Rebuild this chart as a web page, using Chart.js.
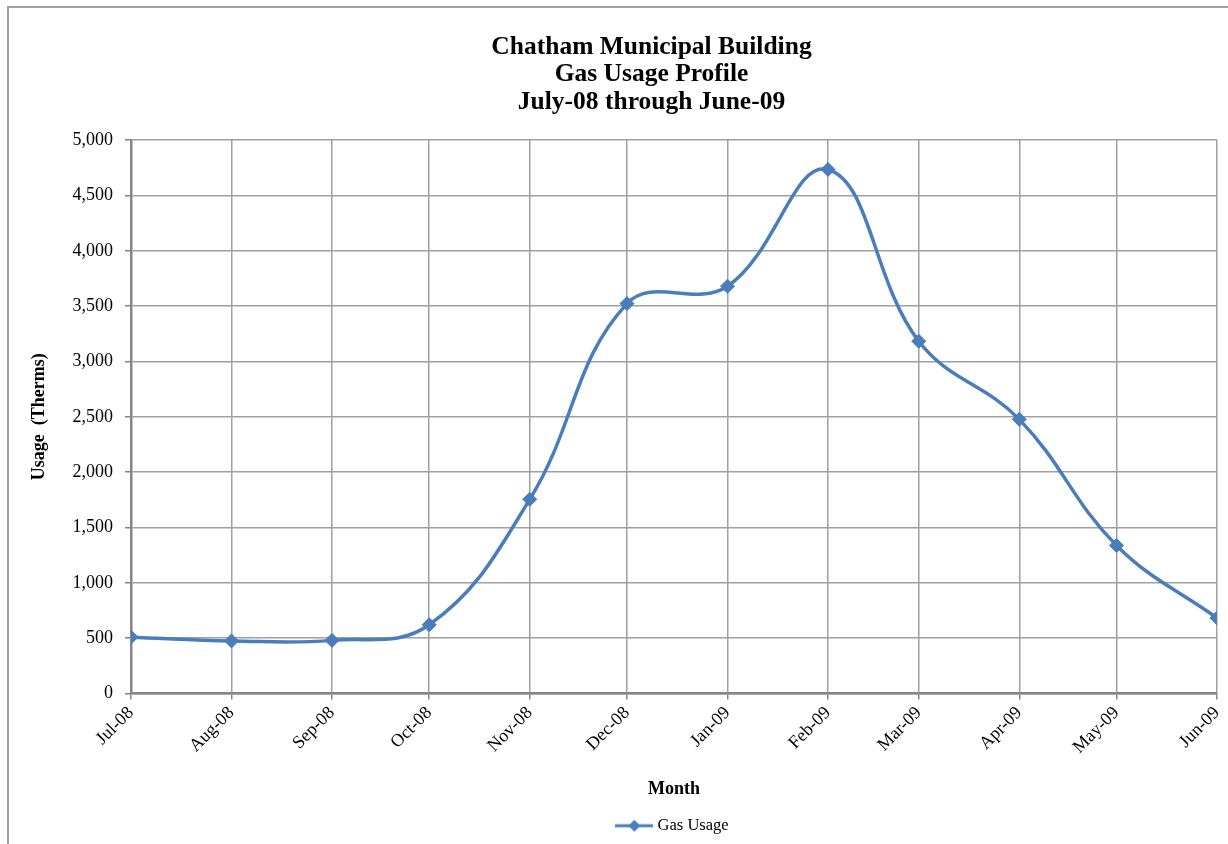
<!DOCTYPE html>
<html>
<head>
<meta charset="utf-8">
<script src="https://cdn.jsdelivr.net/npm/chart.js@4.4.0/dist/chart.umd.min.js"></script>
<style>
  html, body { margin: 0; padding: 0; background: #fff; }
  #wrap { position: relative; width: 1228px; height: 844px; }
</style>
</head>
<body>
<div id="wrap"><canvas id="c" width="1228" height="844"></canvas></div>
<script>
// ---- data ----
const monthDates = ['2008-07-01','2008-08-01','2008-09-01','2008-10-01','2008-11-01','2008-12-01',
                    '2009-01-01','2009-02-01','2009-03-01','2009-04-01','2009-05-01','2009-06-01'];
const monthLabels = ['Jul-08','Aug-08','Sep-08','Oct-08','Nov-08','Dec-08',
                     'Jan-09','Feb-09','Mar-09','Apr-09','May-09','Jun-09'];
const gasUsage = [509, 475, 480, 621, 1754, 3523, 3680, 4735, 3183, 2477, 1338, 682];
const yTicks = [0, 500, 1000, 1500, 2000, 2500, 3000, 3500, 4000, 4500, 5000];
const titleLines = ['Chatham Municipal Building', 'Gas Usage Profile', 'July-08 through June-09'];
const seriesName = 'Gas Usage';

// date axis: days since first month
const base = Date.parse(monthDates[0]);
const dayOffsets = monthDates.map(d => Math.round((Date.parse(d) - base) / 86400000));
const points = gasUsage.map((v, i) => ({ x: dayOffsets[i], y: v }));

const SERIF = "'Liberation Serif', 'Times New Roman', serif";
const BLUE = '#4a7ebb';
const GRID = '#a0a0a0';
const AXIS = '#868686';

// legend icon: line with diamond
const icon = document.createElement('canvas');
icon.width = 38; icon.height = 16;
(function () {
  const g = icon.getContext('2d');
  g.strokeStyle = BLUE; g.lineWidth = 3;
  g.beginPath(); g.moveTo(0, 8); g.lineTo(38, 8); g.stroke();
  g.fillStyle = BLUE;
  g.beginPath(); g.moveTo(19, 2); g.lineTo(25, 8); g.lineTo(19, 14); g.lineTo(13, 8); g.closePath(); g.fill();
})();

const framePlugin = {
  id: 'frame',
  afterLayout(chart) {
    // centre the legend under the plot area
    const lg = chart.legend;
    const ca = chart.chartArea;
    if (lg && ca) {
      const d = (ca.left + ca.right) / 2 - (lg.left + lg.right) / 2;
      lg.left += d; lg.right += d;
    }
    // title sits slightly right of the canvas centre
    const tb = chart.titleBlock;
    if (tb) { tb.left += 38; tb.right += 38; }
  },
  beforeDraw(chart) {
    const ctx = chart.ctx;
    ctx.save();
    ctx.fillStyle = '#fff';
    ctx.fillRect(0, 0, chart.width, chart.height);
    ctx.strokeStyle = '#a0a0a0';
    ctx.lineWidth = 2;
    ctx.beginPath();
    ctx.moveTo(8, chart.height);
    ctx.lineTo(8, 7);
    ctx.lineTo(chart.width, 7);
    ctx.stroke();
    ctx.restore();
  }
};

new Chart(document.getElementById('c'), {
  type: 'line',
  data: {
    datasets: [{
      label: seriesName,
      data: points,
      borderColor: BLUE,
      backgroundColor: BLUE,
      borderWidth: 3.5,
      tension: 0.4,
      pointStyle: 'rectRot',
      pointRadius: 7,
      pointBorderWidth: 1,
      pointBackgroundColor: BLUE,
      pointBorderColor: BLUE,
      fill: false
    }]
  },
  options: {
    responsive: false,
    animation: false,
    layout: { padding: { left: 10, right: 11, top: 0, bottom: 0 } },
    plugins: {
      title: {
        display: true,
        text: titleLines,
        color: '#000',
        font: { family: SERIF, size: 25.5, weight: 'bold', lineHeight: 1.08 },
        padding: { top: 33.5, bottom: 24 }
      },
      legend: {
        display: true,
        position: 'bottom',
        labels: {
          color: '#000',
          font: { family: SERIF, size: 16.5 },
          usePointStyle: true,
          pointStyleWidth: 30,
          boxHeight: 16,
          padding: 8,
          generateLabels(chart) {
            return [{ text: seriesName, pointStyle: icon, fillStyle: BLUE, strokeStyle: BLUE, lineWidth: 0, datasetIndex: 0, fontColor: '#000' }];
          }
        }
      },
      tooltip: { enabled: false }
    },
    scales: {
      x: {
        type: 'linear',
        min: dayOffsets[0],
        max: dayOffsets[dayOffsets.length - 1],
        afterBuildTicks(scale) { scale.ticks = dayOffsets.map(v => ({ value: v })); },
        afterFit(scale) { scale.height = 116; scale.paddingLeft = 0; scale.paddingRight = 0; },
        ticks: {
          autoSkip: false,
          maxRotation: 45,
          minRotation: 45,
          padding: 3,
          color: '#000',
          font: { family: SERIF, size: 18 },
          callback(value) { const i = dayOffsets.indexOf(value); return i >= 0 ? monthLabels[i] : ''; }
        },
        grid: { color: GRID, lineWidth: 1.5, drawTicks: true, tickLength: 6, tickColor: AXIS },
        border: { color: AXIS, width: 2.5 },
        title: {
          display: true, text: 'Month', color: '#000',
          font: { family: SERIF, size: 18, weight: 'bold' },
          padding: { top: 0, bottom: 9 }
        }
      },
      y: {
        min: 0,
        max: 5000,
        afterBuildTicks(scale) { scale.ticks = yTicks.map(v => ({ value: v })); },
        afterFit(scale) { scale.width = 121; },
        ticks: {
          padding: 12,
          color: '#000',
          font: { family: SERIF, size: 18 },
          callback(v) { return Number(v).toLocaleString('en-US'); }
        },
        grid: { color: GRID, lineWidth: 1.5, drawTicks: true, tickLength: 6, tickColor: AXIS },
        border: { color: AXIS, width: 2.5 },
        title: {
          display: true, text: 'Usage  (Therms)', color: '#000',
          font: { family: SERIF, size: 18, weight: 'bold' },
          padding: { top: 19, bottom: 0 }
        }
      }
    }
  },
  plugins: [framePlugin]
});
</script>
</body>
</html>
